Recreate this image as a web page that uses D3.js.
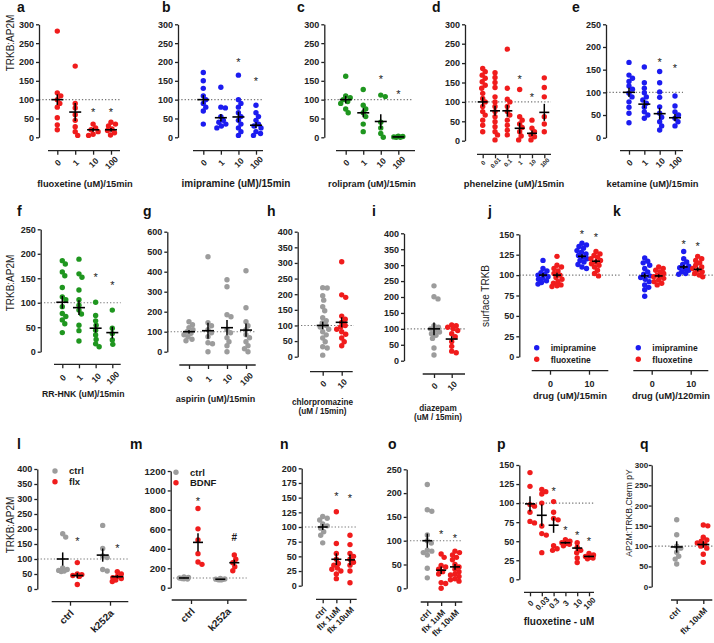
<!DOCTYPE html>
<html><head><meta charset="utf-8">
<script src="https://cdn.jsdelivr.net/npm/d3@7"></script>
<style>body{margin:0;background:#fff}svg{display:block}</style>
</head><body>
<script>
// ---------------- DATA ----------------
const doseCats4 = ["0","1","10","100"];
// a: fluoxetine
const a_vals = [[282,118,110,100,90,80,52,33,20],[189,90,78,60,45,28,15,5],[35,25,20,15,8,5],[40,35,30,22,18,12,6]];
const a_means = [100,67,20,20], a_sems = [14,24,5,5], a_stars = [null,null,72,72];
// b: imipramine
const b_vals = [[172,150,130,110,100,90,80,70,35],[133,80,78,55,45,40,35,30,25],[165,100,90,80,65,55,45,35,25,15,5],[85,65,55,45,35,30,25,15,10,5]];
const b_means = [100,52,54,32], b_sems = [12,10,14,8], b_stars = [null,null,205,155];
// c: rolipram
const c_vals = [[162,110,105,100,95,90,75,65],[127,85,75,65,55,35,15],[112,108,40,25,10,0],[3,2,1,0,0]];
const c_means = [100,65,42,1], c_sems = [10,12,19,1], c_stars = [null,null,161,121];
// d: phenelzine
const d_cats = ["0","0.01","0.1","1","10","100"];
const d_vals = [[186,178,169,161,152,143,135,122,109,100,88,75,66,53,40,23],[175,163,150,137,113,100,88,75,62,49,36,23,15,2],[236,135,107,100,88,75,66,53,40,27,15],[132,62,53,43,34,23,12,2],[53,32,23,15,10,2],[162,137,113,62,43,23]];
const d_means = [100,77,77,32,19,73], d_sems = [12,13,15,14,7,22], d_stars = [null,null,null,165,118,null];
// e: ketamine
const e_vals = [[166,138,131,124,114,107,98,90,79,67,54,33],[156,121,109,99,90,83,76,67,57,50,43],[146,121,101,89,68,54,45,35,26,17],[92,70,57,50,43,35,26]];
const e_means = [100,74,53,44], e_sems = [10,9,13,8], e_stars = [null,null,173,159];
// f: RR-HNK
const f_vals = [[186,179,163,155,131,112,106,92,78,72,65,57,39],[189,159,152,126,106,95,85,77,54,43,22],[101,74,63,54,44,34,25,16,10],[85,48,37,24,15]];
const f_means = [101,90,48,39], f_sems = [13,15,9,12], f_stars = [null,null,157,140];
// g: aspirin
const g_vals = [[150,135,120,110,100,92,85,75,62,55],[475,145,130,110,95,75,45,40,0],[360,325,185,175,110,95,70,50,30,0],[405,220,150,130,110,85,70,50,30,15,0]];
const g_means = [100,105,120,108], g_sems = [9,40,38,33], g_stars = [null,null,null,null];
// h: chlorpromazine
const cats010 = ["0","10"];
const h_vals = [[221,220,195,181,160,147,125,115,108,100,95,88,80,70,60,48,32,28,5],[304,198,190,130,120,110,100,95,88,80,72,60,48,35]];
const h_means = [100,110], h_sems = [12,16];
// i: diazepam
const i_vals = [[235,201,194,110,105,100,95,90,85,80,70,40,18],[112,110,105,100,95,85,75,60,45,30,25]];
const i_means = [100,68], i_sems = [20,9];
// j: surface TRKB 15 min
const j_imi_vals = [[118,108,105,103,101,100,98,96,95,93,91,89],[139,137,135,133,130,128,126,124,122,120,118,116,113,110,108]];
const j_flx_vals = [[123,112,110,108,105,102,100,97,95,92,90,88,87,86],[129,126,124,122,120,118,116,114,112,110,106,102,99]];
const j_imi_means = [100,123], j_imi_sems = [2.5,2.5], j_imi_stars = [null,153];
const j_flx_means = [100,117], j_flx_sems = [3,2.5], j_flx_stars = [null,149];
// k: surface TRKB 120 min
const k_imi_vals = [[121,117,115,112,108,104,101,99,97,95,92,88,85,82,74],[129,120,116,113,111,109,108,106,104,102,101]];
const k_flx_vals = [[110,108,106,104,102,100,99,98,96,94,92,90,88],[123,120,118,115,112,110,108,106,104,102,100,98]];
const k_imi_means = [99,110], k_imi_sems = [3,2.5], k_imi_stars = [null,141];
const k_flx_means = [99,107], k_flx_sems = [2,2.5], k_flx_stars = [null,138];
// l: k252a / flx
const lm_cats = ["ctrl","k252a"];
const l_ctrl_vals = [[184,173,70,65,62,60,58],[212,135,110,105,65,60]];
const l_flx_vals = [[88,50,48,45,42,15],[58,50,42,38,35,30,25]];
const l_ctrl_means = [100,113], l_ctrl_sems = [22,22];
const l_flx_means = [45,41], l_flx_sems = [9,5], l_flx_stars = [167,143];
// m: k252a / BDNF
const m_ctrl_vals = [[110,105,100,98,95,92,90],[95,90,88,85,82,80]];
const m_bdnf_vals = [[815,605,490,350,265,240],[336,292,257,216,175]];
const m_ctrl_means = [100,87], m_ctrl_sems = [3,3];
const m_bdnf_means = [466,257], m_bdnf_sems = [95,30], m_bdnf_stars = [912,518], m_bdnf_marks = ["*","#"];
// n, o: flx 1 / 10 uM
const no_cats = ["ctrl","flx 1uM","flx 10uM"];
const n_vals = [[118,115,112,105,102,98,92,86,73],[126,72,55,45,38,35,30,28,25,20,12],[86,70,55,50,45,40,35,25,5]];
const n_means = [100,45,44], n_sems = [5,10,9], n_stars = [null,156,154];
const o_vals = [[218,165,162,112,100,95,80,78,75,70,42,22],[72,65,48,45,40,35,30,12,10,0],[78,75,70,65,60,50,45,40,35,30,28,25,20,18,15]];
const o_means = [100,38,45], o_sems = [15,8,6], o_stars = [null,118,111];
// p: fluoxetine dose
const p_cats = ["0","0.03","0.3","3","10","100"];
const p_vals = [[140,122,98,96,88,76,74],[118,115,112,100,70,60,58,35],[102,88,80,78,44,40,38],[52,50,48,47,46,44],[48,42,38,35,28,22],[34,32,30,29,28,27]];
const p_means = [99,84,71,48,41,30], p_sems = [10,14,10,1.5,4,1], p_stars = [null,null,119,68,61,53];
// q: AP2M:TRKB.Cterm pY
const q_cats = ["ctrl","flx 10uM"];
const q_vals = [[165,128,100,95,85,75,68,56],[152,150,122,115,112,108,105,100,95,80,60]];
const q_means = [98,104], q_sems = [14,8];

// ---------------- DRAWING ----------------
const RED="#f01c1c", BLUE="#1c1cf0", GREEN="#1f961f", GRAY="#9c9c9c", AX="#222";
const FONT = "'Liberation Sans', Arial, Helvetica, sans-serif";
const R = 2.7;
const svg = d3.select("body").append("svg").attr("width",714).attr("height",643)
  .attr("font-family",FONT);
svg.append("rect").attr("width",714).attr("height",643).attr("fill","#fff");

function swarm(ys, maxJ) {
  const order = ys.map((v,i)=>i).sort((a,b)=>ys[a]-ys[b]);
  const D = 2*R*0.82, placed=[], out=new Array(ys.length);
  const cands=[0]; for(let s=0.5;s<=maxJ+1e-9;s+=0.5){cands.push(s,-s);}
  for (const i of order) {
    let best=0, bestD=-1;
    for (const c of cands) {
      let md=Infinity;
      for (const p of placed){const d=Math.hypot(c-p.x, ys[i]-p.y); if(d<md) md=d;}
      if (md>=D){best=c; bestD=Infinity; break;}
      if (md>bestD){bestD=md; best=c;}
    }
    placed.push({x:best,y:ys[i]}); out[i]=best;
  }
  return out;
}

function panel(L, S) {
  const g = svg.append("g");
  const y = d3.scaleLinear().domain([0,L.yMax]).range([L.yBot,L.yTop]);
  const x = d3.scalePoint().domain(L.cats).range([L.c0,L.c1]);
  g.append("text").attr("x",L.lx).attr("y",L.ly).attr("font-weight","bold").attr("font-size",14).attr("fill","#111").text(L.label);
  g.append("line").attr("x1",L.r0!==undefined?L.r0:L.axX).attr("x2",L.r1).attr("y1",y(100)).attr("y2",y(100))
    .attr("stroke","#777").attr("stroke-width",1.1).attr("stroke-dasharray","1.3,2");
  if (L.yAxis!==false) {
    const ay = g.append("g").attr("transform",`translate(${L.axX},0)`)
      .call(d3.axisLeft(y).tickValues(d3.range(0,L.yMax+0.001,L.yStep)).tickSizeInner(3).tickSizeOuter(0)
        .tickPadding(L.yPad!==undefined?L.yPad:2).tickFormat(d3.format("d")));
    ay.attr("color",AX).attr("font-family",FONT).attr("font-size",L.yFs||9).attr("font-weight","bold");
    ay.selectAll("path,line").attr("stroke-width",1.3);
  }
  const ax = g.append("g").attr("transform",`translate(0,${L.xAxY})`).call(d3.axisBottom(x).tickSizeInner(4).tickSizeOuter(0));
  ax.select(".domain").remove();
  ax.attr("color",AX).attr("font-family",FONT).attr("font-size",L.tFs).attr("font-weight","bold");
  ax.selectAll("line").attr("stroke-width",1.3);
  ax.append("line").attr("x1",L.xl0).attr("x2",L.xl1).attr("stroke",AX).attr("stroke-width",1.3);
  ax.selectAll(".tick text").each(function(){
    const t=d3.select(this);
    if (L.tMode==="flat") t.attr("y",L.tdy).attr("dy",0).attr("text-anchor","middle");
    else if (L.tMode==="mid") t.attr("x",0).attr("y",0).attr("dy","0.35em").attr("text-anchor","middle").attr("transform",`translate(${L.tdx||0},${L.tdy}) rotate(-45)`);
    else t.attr("x",0).attr("y",0).attr("dy",0).attr("text-anchor","end").attr("transform",`translate(${L.tdx||4},${L.tdy}) rotate(-45)`);
  });
  // series
  S.forEach(s=>{
    s.vals.forEach((vals,ci)=>{
      const cx = x(L.cats[ci]) + (s.dx||0);
      const col = Array.isArray(s.color)? s.color[ci] : s.color;
      const ys = vals.map(v=>y(v));
      const offs = swarm(ys, L.maxJ);
      g.append("g").selectAll("circle").data(vals).join("circle")
        .attr("cx",(d,i)=>cx+offs[i]).attr("cy",d=>y(d)).attr("r",R).attr("fill",col);
      const m = s.means[ci], se = s.sems[ci];
      g.append("line").attr("x1",cx).attr("x2",cx).attr("y1",y(m-se)).attr("y2",y(m+se)).attr("stroke","#000").attr("stroke-width",1.5);
      g.append("line").attr("x1",cx-L.hw).attr("x2",cx+L.hw).attr("y1",y(m)).attr("y2",y(m)).attr("stroke","#000").attr("stroke-width",1.6);
      if (s.stars && s.stars[ci]!=null) {
        const ch = s.marks ? s.marks[ci] : "*";
        const fs = ch==="#"?10:11;
        g.append("text").attr("x",cx).attr("y",y(s.stars[ci]) + (ch==="#"?3.6:6.3)).attr("text-anchor","middle")
          .attr("fill","#1a1a1a").attr("font-size",fs).attr("font-weight",ch==="#"?"bold":"normal").text(ch);
      }
    });
  });
  // legend
  (L.legend||[]).forEach(e=>{
    g.append("circle").attr("cx",e.x).attr("cy",e.y).attr("r",R).attr("fill",e.color);
    g.append("text").attr("x",e.x+14).attr("y",e.y+3.2).attr("fill","#1a1a1a").attr("font-size",L.legFs||9).attr("font-weight","bold").text(e.text);
  });
  // x title
  (L.title||[]).forEach((t,i)=>{
    g.append("text").attr("x",L.tx).attr("y",L.ty+i*(L.tlh||9)).attr("text-anchor","middle").attr("fill","#1a1a1a")
      .attr("font-size",L.tfs).attr("font-weight","bold").text(t);
  });
  if (L.yTitle) {
    g.append("text").attr("transform",`translate(${L.ytx},${L.yty}) rotate(-90)`).attr("text-anchor","middle").attr("fill","#1a1a1a")
      .attr("dominant-baseline","central").attr("font-size",L.ytFs||10).text(L.yTitle);
  }
}

// Row 1
panel({label:"a",lx:17,ly:12,axX:39,yTop:24.3,yBot:137.3,yMax:300,yStep:50,xAxY:150.7,xl0:48,xl1:120,c0:57.3,c1:111,cats:doseCats4,
  tMode:"mid",tFs:8.5,tdy:12,title:["fluoxetine (uM)/15min"],tx:85,ty:186.5,tfs:9.3,yTitle:"TRKB:AP2M",ytx:10,yty:43,r1:120,hw:6,maxJ:5},
  [{vals:a_vals,means:a_means,sems:a_sems,stars:a_stars,color:RED}]);
panel({label:"b",lx:162,ly:12,axX:178,yTop:24.3,yBot:137.3,yMax:300,yStep:50,xAxY:150.7,xl0:193,xl1:263,c0:203.3,c1:256,cats:doseCats4,
  tMode:"mid",tFs:8.5,tdy:12,title:["imipramine (uM)/15min"],tx:236,ty:186.5,tfs:10,r1:263,hw:6,maxJ:5},
  [{vals:b_vals,means:b_means,sems:b_sems,stars:b_stars,color:BLUE}]);
panel({label:"c",lx:297,ly:12,axX:324.3,yTop:24.3,yBot:137.3,yMax:300,yStep:50,xAxY:150.7,xl0:336,xl1:415,c0:345.7,c1:398.3,cats:doseCats4,
  tMode:"mid",tFs:8.5,tdy:12,title:["rolipram (uM)/15min"],tx:372,ty:186.5,tfs:9.2,r1:412,hw:6,maxJ:5},
  [{vals:c_vals,means:c_means,sems:c_sems,stars:c_stars,color:GREEN}]);
panel({label:"d",lx:432,ly:12,axX:465,yTop:24.3,yBot:140.7,yMax:300,yStep:50,xAxY:154.3,xl0:477,xl1:551,c0:482.7,c1:544.3,cats:d_cats,
  tMode:"mid",tFs:6,tdy:8.5,title:["phenelzine (uM)/15min"],tx:514,ty:186.5,tfs:9.4,r1:551,hw:5,maxJ:2.5},
  [{vals:d_vals,means:d_means,sems:d_sems,stars:d_stars,color:RED}]);
panel({label:"e",lx:572,ly:12,axX:606,yTop:24.3,yBot:137.7,yMax:250,yStep:50,xAxY:150.7,xl0:620,xl1:683,c0:629,c1:675,cats:doseCats4,
  tMode:"mid",tFs:8.5,tdy:12,title:["ketamine (uM)/15min"],tx:652.5,ty:186.5,tfs:9.3,r1:683,hw:6,maxJ:5},
  [{vals:e_vals,means:e_means,sems:e_sems,stars:e_stars,color:BLUE}]);
// Row 2
panel({label:"f",lx:17,ly:216,axX:40.7,yTop:229.3,yBot:351.7,yMax:250,yStep:50,xAxY:364.3,xl0:54,xl1:120.7,c0:62.3,c1:112.3,cats:doseCats4,
  tMode:"mid",tFs:8.5,tdy:13.5,title:["RR-HNK (uM)/15min"],tx:83.3,ty:396.5,tfs:8.7,yTitle:"TRKB:AP2M",ytx:10,yty:283,r1:120.7,hw:6,maxJ:5},
  [{vals:f_vals,means:f_means,sems:f_sems,stars:f_stars,color:GREEN}]);
panel({label:"g",lx:143,ly:216,axX:167.3,yTop:231.7,yBot:351.7,yMax:600,yStep:100,xAxY:365,xl0:179.3,xl1:255.7,c0:189,c1:246,cats:doseCats4,
  tMode:"mid",tFs:8.5,tdy:14,title:["aspirin (uM)/15min"],tx:215.5,ty:402,tfs:9,r1:255.7,hw:6,maxJ:5},
  [{vals:g_vals,means:g_means,sems:g_sems,stars:g_stars,color:GRAY}]);
panel({label:"h",lx:267,ly:216,axX:297.7,yTop:231.7,yBot:356.7,yMax:400,yStep:50,xAxY:371.7,xl0:310,xl1:352.7,c0:322.7,c1:341.7,cats:cats010,
  tMode:"mid",tFs:8.5,tdy:12,title:["chlorpromazine","(uM / 15min)"],tx:322.5,ty:405,tlh:8.5,tfs:8.2,r1:354,hw:6,maxJ:6},
  [{vals:h_vals,means:h_means,sems:h_sems,color:[GRAY,RED]}]);
panel({label:"i",lx:372,ly:216,axX:404,yTop:233.3,yBot:360.7,yMax:400,yStep:50,xAxY:374,xl0:422.7,xl1:465,c0:434,c1:451.7,cats:cats010,
  tMode:"mid",tFs:8.5,tdy:12,title:["diazepam","(uM / 15min)"],tx:438,ty:411,tlh:9,tfs:8.2,r1:466,hw:6,maxJ:6},
  [{vals:i_vals,means:i_means,sems:i_sems,color:[GRAY,RED]}]);
panel({label:"j",lx:488,ly:216,axX:519.3,yTop:234.3,yBot:356.7,yMax:150,yStep:25,xAxY:370.7,xl0:531.7,xl1:608.3,c0:550,c1:589,cats:cats010,
  tMode:"flat",tFs:9,tdy:16,title:["drug (uM)/15min"],tx:570,ty:399,tfs:9.5,yTitle:"surface TRKB",ytx:485,yty:296,r1:620,hw:4,maxJ:5,
  legend:[{color:BLUE,text:"imipramine",x:536.7,y:347.7},{color:RED,text:"fluoxetine",x:536.7,y:359.3}],legFs:8.5},
  [{vals:j_imi_vals,means:j_imi_means,sems:j_imi_sems,stars:j_imi_stars,color:BLUE,dx:-7},
   {vals:j_flx_vals,means:j_flx_means,sems:j_flx_sems,stars:j_flx_stars,color:RED,dx:7}]);
panel({label:"k",lx:613,ly:216,yAxis:false,axX:629,yTop:234.3,yBot:356.7,yMax:150,yStep:25,xAxY:370.7,xl0:633.3,xl1:708.3,c0:651.7,c1:690.7,cats:cats010,
  tMode:"flat",tFs:9,tdy:16,title:["drug (uM)/120min"],tx:671,ty:399,tfs:9.4,r0:629,r1:714,hw:4,maxJ:5,
  legend:[{color:BLUE,text:"imipramine",x:638.3,y:347.7},{color:RED,text:"fluoxetine",x:638.3,y:359.3}],legFs:8.5},
  [{vals:k_imi_vals,means:k_imi_means,sems:k_imi_sems,stars:k_imi_stars,color:BLUE,dx:-7},
   {vals:k_flx_vals,means:k_flx_means,sems:k_flx_sems,stars:k_flx_stars,color:RED,dx:7}]);
// Row 3
panel({label:"l",lx:17,ly:449,axX:37.3,yTop:469,yBot:589,yMax:400,yStep:50,xAxY:601.7,xl0:51.7,xl1:128.3,c0:70,c1:110,cats:lm_cats,
  tMode:"end",tFs:10,tdx:4,tdy:12,yTitle:"TRKB:AP2M",ytx:10,yty:525,r1:128.3,hw:6,maxJ:5,
  legend:[{color:GRAY,text:"ctrl",x:55,y:471},{color:RED,text:"flx",x:55,y:481.7}],legFs:9.5},
  [{vals:l_ctrl_vals,means:l_ctrl_means,sems:l_ctrl_sems,color:GRAY,dx:-7.3},
   {vals:l_flx_vals,means:l_flx_means,sems:l_flx_sems,stars:l_flx_stars,color:RED,dx:7.3}]);
panel({label:"m",lx:130,ly:449,axX:170.7,yTop:471,yBot:587.7,yMax:1200,yStep:200,xAxY:600,xl0:171.7,xl1:246.7,c0:191,c1:227.3,cats:lm_cats,
  tMode:"end",tFs:10,tdx:4,tdy:12,r0:173,r1:246.7,hw:5,maxJ:5,yFs:9.5,
  legend:[{color:GRAY,text:"ctrl",x:176,y:472.3},{color:RED,text:"BDNF",x:176,y:482.7}],legFs:9.5},
  [{vals:m_ctrl_vals,means:m_ctrl_means,sems:m_ctrl_sems,color:GRAY,dx:-7},
   {vals:m_bdnf_vals,means:m_bdnf_means,sems:m_bdnf_sems,stars:m_bdnf_stars,marks:m_bdnf_marks,color:RED,dx:7}]);
panel({label:"n",lx:280,ly:449,axX:301.7,yTop:468.3,yBot:585.7,yMax:200,yStep:25,xAxY:599.3,xl0:316,xl1:356.7,c0:322.7,c1:350,cats:no_cats,
  tMode:"end",tFs:8.5,tdx:4,tdy:11,r1:357,hw:5,maxJ:5},
  [{vals:n_vals,means:n_means,sems:n_sems,stars:n_stars,color:[GRAY,RED,RED]}]);
panel({label:"o",lx:388,ly:449,axX:406.7,yTop:469.3,yBot:588.3,yMax:250,yStep:50,xAxY:602,xl0:420.7,xl1:462.3,c0:427.3,c1:455,cats:no_cats,
  tMode:"end",tFs:8.5,tdx:4,tdy:11,r1:462.3,hw:5,maxJ:5},
  [{vals:o_vals,means:o_means,sems:o_sems,stars:o_stars,color:[GRAY,RED,RED]}]);
panel({label:"p",lx:497,ly:449,axX:519.3,yTop:465,yBot:579.3,yMax:150,yStep:25,xAxY:592.3,xl0:524,xl1:594,c0:530,c1:589,cats:p_cats,
  tMode:"mid",tFs:8,tdy:11,title:["fluoxetine - uM"],tx:559,ty:625,tfs:10,r1:595,hw:5,maxJ:4.5},
  [{vals:p_vals,means:p_means,sems:p_sems,stars:p_stars,color:RED}]);
panel({label:"q",lx:640,ly:449,axX:651.7,yTop:465,yBot:586.7,yMax:300,yStep:50,xAxY:600,xl0:671,xl1:712.3,c0:676.7,c1:703.3,cats:q_cats,
  tMode:"end",tFs:8.5,tdx:4,tdy:11,yTitle:"AP2M:TRKB.Cterm pY",ytx:628.5,yty:513,ytFs:8.6,yFs:8,yPad:0.5,r1:714,hw:6,maxJ:6},
  [{vals:q_vals,means:q_means,sems:q_sems,color:[GRAY,RED]}]);
</script>
</body></html>
